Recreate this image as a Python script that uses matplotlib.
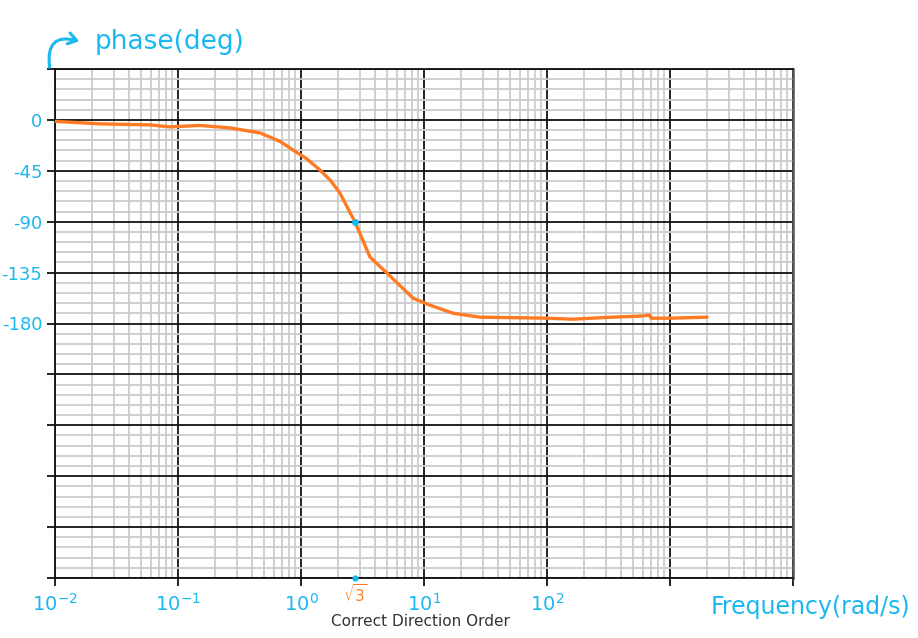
import matplotlib
matplotlib.use("Agg")
import matplotlib.pyplot as plt
from matplotlib.ticker import LogLocator, MultipleLocator, NullFormatter
from matplotlib.patches import FancyArrowPatch

# Phase response
freq = [0.01, 0.0232, 0.0591, 0.0861, 0.1, 0.151, 0.265, 0.465, 0.675, 0.861,
        1.1, 1.426, 1.75, 2.07, 2.75, 3.64, 5.0, 8.14, 11.2, 17.2, 28.5, 100,
        163, 307, 560, 688, 700, 1000, 2000]
phase = [-1.3, -3.5, -4.4, -6.2, -5.8, -4.9, -7.1, -11.5, -19.0, -26.6,
         -34.0, -44.3, -54.0, -64.6, -90.3, -121.3, -135.4, -157.6, -163.8,
         -170.9, -174.4, -175.3, -176.2, -174.6, -173.5, -172.6, -175.3,
         -175.3, -174.4]

x_ticks = [1e-2, 1e-1, 1e0, 1e1, 1e2, 1e3, 1e4]
x_tick_labels = [r"$10^{-2}$", r"$10^{-1}$", r"$10^{0}$", r"$10^{1}$", r"$10^{2}$", "", ""]
y_ticks = [45, 0, -45, -90, -135, -180, -225, -270, -315, -360, -405]
y_tick_labels = ["", "0", "-45", "-90", "-135", "-180", "", "", "", "", ""]

marker_freq = 2.75
marker_phase = -90

ORANGE = "#FF7A22"
CYAN = "#1AB8EE"

fig = plt.figure(figsize=(9.18, 6.38), dpi=100)
ax = fig.add_axes([55 / 918, 60 / 638, 738 / 918, 509 / 638])

ax.set_xscale("log")
ax.set_xlim(1e-2, 1e4)
ax.set_ylim(-405, 45)

ax.set_xticks(x_ticks)
ax.set_xticklabels(x_tick_labels)
ax.xaxis.set_minor_locator(LogLocator(base=10, subs=range(2, 10)))
ax.xaxis.set_minor_formatter(NullFormatter())
ax.set_yticks(y_ticks)
ax.set_yticklabels(y_tick_labels)
ax.yaxis.set_minor_locator(MultipleLocator(9))

ax.grid(which="minor", color="#cdcdcd", lw=1.3)
ax.grid(which="major", color="#111111", lw=1.3)
ax.set_axisbelow(True)

ax.tick_params(which="major", length=6, width=1.3, color="#111111",
               labelcolor=CYAN)
ax.tick_params(which="minor", length=0)
ax.tick_params(axis="x", pad=5, labelsize=14)
ax.tick_params(axis="y", pad=3, labelsize=13)
for side in ["left", "bottom", "top"]:
    ax.spines[side].set_color("#111111")
    ax.spines[side].set_linewidth(1.3)
ax.spines["right"].set_color("#555555")
ax.spines["right"].set_linewidth(1.8)

ax.plot(freq, phase, color=ORANGE, lw=2.4, solid_capstyle="round",
        solid_joinstyle="round", zorder=3)
ax.plot([marker_freq], [marker_phase], marker="o", ms=4, color=CYAN, zorder=4)
ax.plot([marker_freq], [-405], marker="o", ms=3.5, color=CYAN, zorder=4,
        clip_on=False)

ax.text(marker_freq, -419, r"$\sqrt{3}$", color=ORANGE, fontsize=11,
        fontweight="bold", ha="center", va="center")

fig.text(170 / 918, 1 - 42 / 638, "phase(deg)", color=CYAN, fontsize=19,
         ha="center", va="center")
arrow = FancyArrowPatch((50 / 918, 1 - 70 / 638), (82 / 918, 1 - 42 / 638),
                        transform=fig.transFigure,
                        arrowstyle="->,head_length=6,head_width=4",
                        connectionstyle="arc3,rad=-0.8", color=CYAN, lw=2.2,
                        mutation_scale=1)
fig.patches.append(arrow)

fig.text(810 / 918, 1 - 607 / 638, "Frequency(rad/s)", color=CYAN, fontsize=17,
         ha="center", va="center")
fig.text(420 / 918, 1 - 621 / 638, "Correct Direction Order", color="#333333",
         fontsize=11, ha="center", va="center")

fig.savefig("out.png", dpi=100, facecolor="white")
